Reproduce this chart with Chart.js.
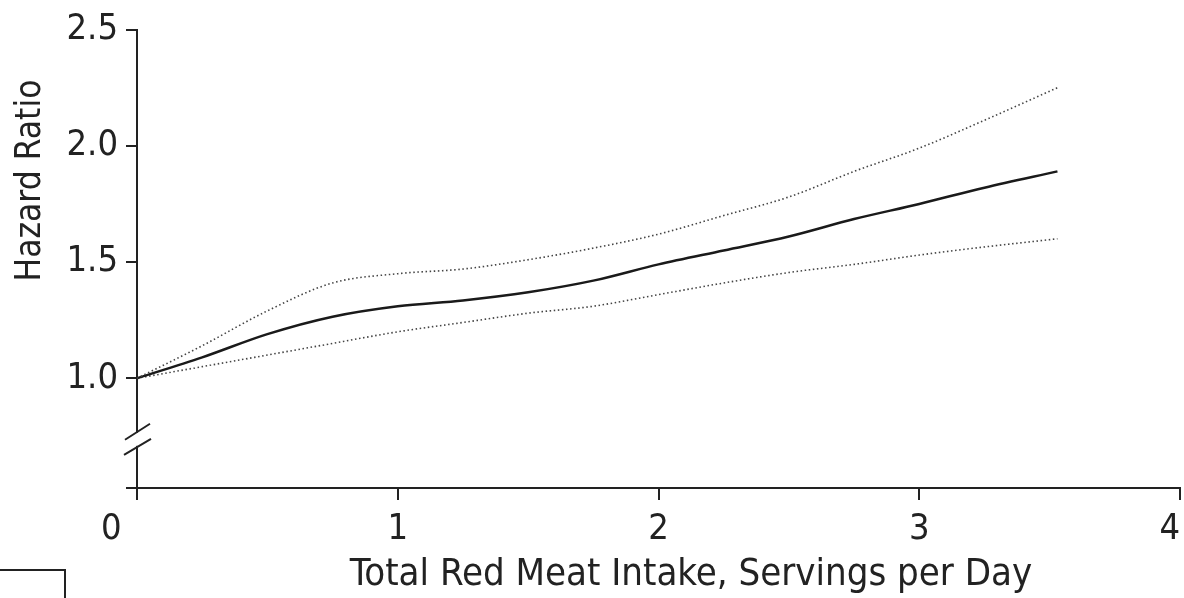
<!DOCTYPE html>
<html>
<head>
<meta charset="utf-8">
<script src="https://cdn.jsdelivr.net/npm/chart.js@4.4.1/dist/chart.umd.min.js"></script>
<style>
  html, body { margin: 0; padding: 0; background: #fff; }
  #wrap { width: 1184px; height: 598px; position: relative; }
</style>
</head>
<body>
<div id="wrap"><canvas id="hrChart"></canvas></div>
<script>
// servings per day (x) and hazard ratio values
var servings = [0, 0.25, 0.5, 0.75, 1.0, 1.25, 1.5, 1.75, 2.0, 2.25, 2.5, 2.75, 3.0, 3.25, 3.53];
var hrMain   = [1.0, 1.09, 1.19, 1.265, 1.31, 1.335, 1.37, 1.42, 1.49, 1.55, 1.61, 1.685, 1.75, 1.82, 1.89];
var hrUpper  = [1.0, 1.14, 1.29, 1.41, 1.45, 1.47, 1.51, 1.56, 1.62, 1.70, 1.78, 1.89, 1.99, 2.11, 2.25];
var hrLower  = [1.0, 1.05, 1.10, 1.15, 1.20, 1.24, 1.28, 1.31, 1.36, 1.41, 1.455, 1.49, 1.53, 1.565, 1.60];
var yTicks   = [1.0, 1.5, 2.0, 2.5];
var xTicks   = [0, 1, 2, 3, 4];

const yMin = 0.528;
const fontFam = "'Liberation Sans Narrow', 'Arial Narrow', 'DejaVu Sans Condensed', sans-serif";
const nb = '\u00a0';

function toPoints(xs, ys) {
    let pts = [];
    for (let i = 0; i < xs.length; i++) {
        pts.push({ x: xs[i], y: ys[i] });
    }
    return pts;
}

// axis break marks on the y axis + the stray box in the lower-left corner
const breakMarks = {
    id: 'breakMarks',
    afterDraw: function (chart) {
        const ctx = chart.ctx;
        const yS = chart.scales.y;
        const left = chart.chartArea.left;
        const y1 = yS.getPixelForValue(0.77);
        const y2 = yS.getPixelForValue(0.705);
        ctx.save();
        // gap in the axis between the two slashes
        ctx.fillStyle = '#fff';
        ctx.fillRect(left - 2, y1 + 1, 4, (y2 - y1) - 2);
        ctx.strokeStyle = '#222';
        ctx.lineWidth = 2;
        ctx.beginPath();
        ctx.moveTo(left - 12, y1 + 8);
        ctx.lineTo(left + 13, y1 - 8);
        ctx.moveTo(left - 13, y2 + 8);
        ctx.lineTo(left + 14, y2 - 8);
        ctx.stroke();
        // partial frame at bottom left
        ctx.beginPath();
        ctx.moveTo(0, 570);
        ctx.lineTo(65, 570);
        ctx.lineTo(65, 598);
        ctx.stroke();
        ctx.restore();
    }
};

let ctx = document.getElementById('hrChart').getContext('2d');

let hrChart = new Chart(ctx, {
    type: 'line',
    data: {
        datasets: [
            {
                label: 'Upper 95% CI',
                data: toPoints(servings, hrUpper),
                borderColor: '#444',
                borderWidth: 1.6,
                borderDash: [1.5, 2.6],
                pointRadius: 0,
                cubicInterpolationMode: 'monotone',
                fill: false
            },
            {
                label: 'Hazard Ratio',
                data: toPoints(servings, hrMain),
                borderColor: '#1a1a1a',
                borderWidth: 2.5,
                pointRadius: 0,
                cubicInterpolationMode: 'monotone',
                fill: false
            },
            {
                label: 'Lower 95% CI',
                data: toPoints(servings, hrLower),
                borderColor: '#444',
                borderWidth: 1.6,
                borderDash: [1.5, 2.6],
                pointRadius: 0,
                cubicInterpolationMode: 'monotone',
                fill: false
            }
        ]
    },
    plugins: [breakMarks],
    options: {
        responsive: true,
        maintainAspectRatio: false,
        animation: false,
        layout: {
            padding: { top: 25, right: 4, bottom: 0, left: 0 }
        },
        plugins: {
            legend: { display: false },
            tooltip: { enabled: false }
        },
        scales: {
            x: {
                type: 'linear',
                min: 0,
                max: 4,
                afterFit: function (scale) {
                    scale.height = 110;
                    scale.paddingLeft = 0;
                    scale.paddingRight = 0;
                },
                afterBuildTicks: function (scale) {
                    scale.ticks = xTicks.map(function (v) { return { value: v }; });
                },
                ticks: {
                    maxRotation: 0,
                    padding: 8,
                    color: '#222',
                    font: { family: fontFam, size: 36 },
                    callback: function (value) {
                        // end labels sit left of their tick in the original
                        if (value === 0) return '0' + nb.repeat(5);
                        if (value === 4) return '4' + nb.repeat(2);
                        return String(value);
                    }
                },
                grid: {
                    drawOnChartArea: false,
                    tickLength: 12,
                    color: '#222',
                    lineWidth: 2
                },
                border: { display: true, color: '#222', width: 2 },
                title: {
                    display: true,
                    text: nb.repeat(6) + 'Total Red Meat Intake, Servings per Day',
                    color: '#222',
                    font: { family: fontFam, size: 38 },
                    padding: { top: 0, bottom: 0 }
                }
            },
            y: {
                type: 'linear',
                min: yMin,
                max: 2.5,
                afterFit: function (scale) {
                    scale.width = 137;
                },
                afterBuildTicks: function (scale) {
                    scale.ticks = [{ value: yMin }].concat(yTicks.map(function (v) { return { value: v }; }));
                },
                ticks: {
                    padding: 8,
                    color: '#222',
                    font: { family: fontFam, size: 36 },
                    callback: function (value) {
                        if (value < 0.9) return '';
                        return value.toFixed(1);
                    }
                },
                grid: {
                    drawOnChartArea: false,
                    tickLength: 11,
                    color: '#222',
                    lineWidth: 2
                },
                border: { display: true, color: '#222', width: 2 },
                title: {
                    display: true,
                    align: 'end',
                    text: 'Hazard Ratio' + nb.repeat(5),
                    color: '#222',
                    font: { family: fontFam, size: 35 },
                    padding: { top: 10, bottom: 0 }
                }
            }
        }
    }
});
</script>
</body>
</html>
